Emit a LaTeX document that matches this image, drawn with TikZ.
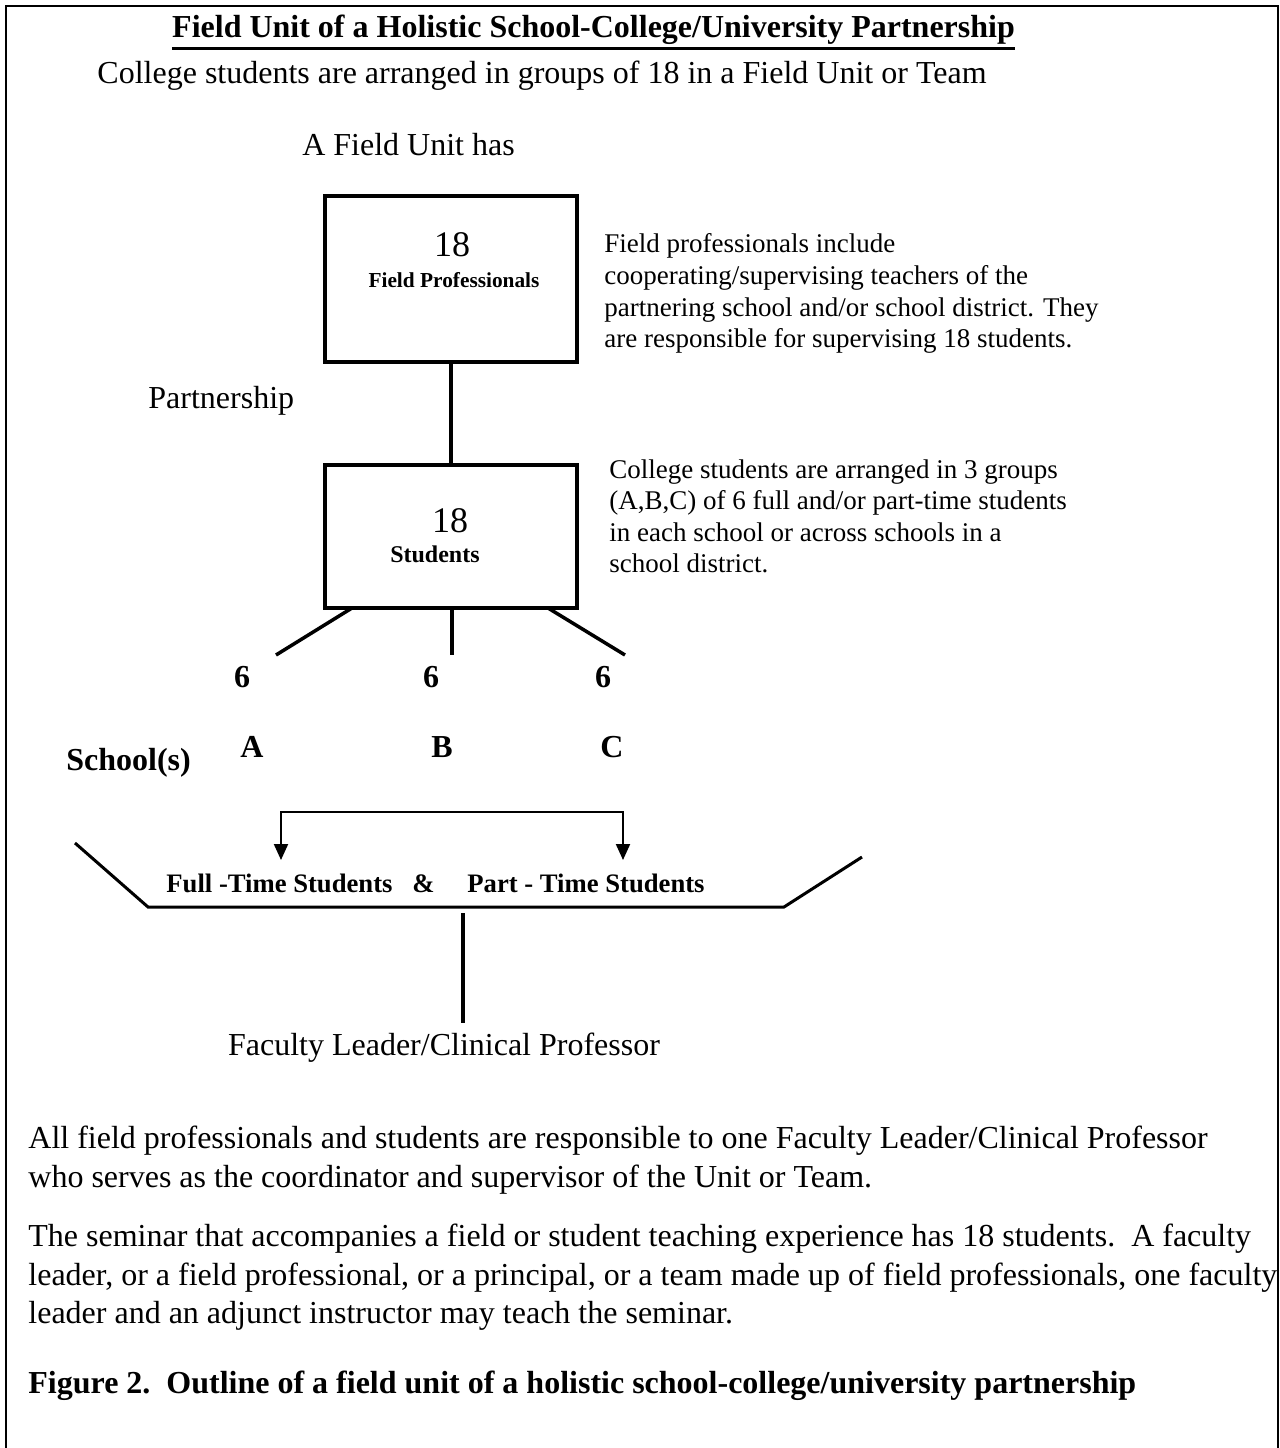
\documentclass[tikz,border=0pt]{standalone}
\usepackage{fontspec}
\setmainfont{Liberation Serif}
\usetikzlibrary{arrows.meta}
\begin{document}
\begin{tikzpicture}[x=0.5pt,y=-0.5pt,
  body/.style={inner sep=0pt, font=\fontsize{16}{19}\selectfont},
  bodyb/.style={inner sep=0pt, font=\fontsize{16}{19}\selectfont\bfseries},
  side/.style={inner sep=0pt, anchor=base west, font=\fontsize{13.5}{16}\selectfont},
  bigno/.style={inner sep=0pt, anchor=base, font=\fontsize{18}{21}\selectfont},
  unitbox/.style={draw, line width=2pt, minimum width=126pt, inner sep=0pt},
  conn/.style={line width=1.75pt},
  tray/.style={line width=1.5pt},
  bracket/.style={line width=1pt, {Triangle[width=7pt,length=8pt]}-{Triangle[width=7pt,length=8pt]}}
]
\useasboundingbox (0,0) rectangle (1280,1448);
\fill[white] (0,0) rectangle (1280,1448);
% outer frame
\coordinate (fbl) at (6,1460);
\coordinate (ftl) at (6,6);
\coordinate (ftr) at (1278,6);
\coordinate (fbr) at (1278,1460);
\draw[line width=1.25pt] (fbl) -- (ftl) -- (ftr) -- (fbr);

% title
\node[bodyb, anchor=base] (title) at (593.5,37) {Field Unit of a Holistic School-College/University Partnership};
\draw[line width=1.5pt] ([yshift=-5.5pt]title.base west) -- ([yshift=-5.5pt]title.base east);

\node[body, anchor=base] (college) at (542,83) {College students are arranged in groups of 18 in a Field Unit or Team};
\node[body, anchor=base] (afu) at (408.5,155) {A Field Unit has};

% box 1
\node[unitbox, minimum height=83pt] (fpbox) at (451,279) {};
\node[bigno] (fp18) at (452,256) {18};
\node[inner sep=0pt, anchor=base, font=\fontsize{10.67}{13}\selectfont\bfseries] (fplab) at (454,287) {Field Professionals};

\node[side] (s1a) at (604,252) {Field professionals include};
\node[side] (s1b) at (604,284) {cooperating/supervising teachers of the};
\node[side] (s1c) at (604,316) {partnering school and/or school district. They};
\node[side] (s1d) at (604,347) {are responsible for supervising 18 students.};

\node[body, anchor=base west] (partner) at (148,408) {Partnership};

% box 2
\node[unitbox, minimum height=71.5pt] (stbox) at (451,536.5) {};
\node[bigno] (st18) at (450,532) {18};
\node[inner sep=0pt, anchor=base, font=\fontsize{12}{14}\selectfont\bfseries] (stlab) at (435,562) {Students};

\node[side] (s2a) at (609,478) {College students are arranged in 3 groups};
\node[side] (s2b) at (609,509) {(A,B,C) of 6 full and/or part-time students};
\node[side] (s2c) at (609,541) {in each school or across schools in a};
\node[side] (s2d) at (609,572) {school district.};

\draw[conn] (fpbox.south) -- (stbox.north);

% branches
\coordinate (b1) at (352,608);
\coordinate (b2) at (452,608);
\coordinate (b3) at (548,608);
\coordinate (e1) at (276,655);
\coordinate (e2) at (452,655);
\coordinate (e3) at (625,655);
\draw[conn] (b1) -- (e1);
\draw[conn] (b2) -- (e2);
\draw[conn] (b3) -- (e3);

\node[bodyb, anchor=base] (n6a) at (242,687) {6};
\node[bodyb, anchor=base] (n6b) at (431,687) {6};
\node[bodyb, anchor=base] (n6c) at (603,687) {6};
\node[bodyb, anchor=base] (la) at (252,757) {A};
\node[bodyb, anchor=base] (lb) at (442,757) {B};
\node[bodyb, anchor=base] (lc) at (612,757) {C};
\node[bodyb, anchor=base west] (schools) at (66,770) {School(s)};

% full/part time
\node[inner sep=0pt, anchor=base west, font=\fontsize{13.33}{16}\selectfont\bfseries] (ft) at (166,892) {Full -Time Students};
\node[inner sep=0pt, anchor=base west, font=\fontsize{13.33}{16}\selectfont\bfseries] (amp) at (412,892) {\&};
\node[inner sep=0pt, anchor=base west, font=\fontsize{13.33}{16}\selectfont\bfseries] (pt) at (467,892) {Part - Time Students};

\coordinate (arL) at (281,860);
\coordinate (arR) at (623,860);
\coordinate (brL) at (281,812);
\coordinate (brR) at (623,812);
\draw[bracket] (arL) -- (brL) -- (brR) -- (arR);

% tray
\coordinate (t1) at (75,843);
\coordinate (t2) at (148,907);
\coordinate (t3) at (784,907);
\coordinate (t4) at (862,857);
\draw[tray] (t1) -- (t2) -- (t3) -- (t4);

\coordinate (vtop) at (463,913);
\coordinate (vbot) at (463,1023);
\draw[conn] (vtop) -- (vbot);

\node[body, anchor=base] (fac) at (444,1055) {Faculty Leader/Clinical Professor};

% paragraphs
\node[body, anchor=base west] (p1a) at (28,1148) {All field professionals and students are responsible to one Faculty Leader/Clinical Professor};
\node[body, anchor=base west] (p1b) at (28,1187) {who serves as the coordinator and supervisor of the Unit or Team.};
\node[body, anchor=base west] (p2a) at (28,1246) {The seminar that accompanies a field or student teaching experience has 18 students.\ \ A faculty};
\node[body, anchor=base west] (p2b) at (28,1285) {leader, or a field professional, or a principal, or a team made up of field professionals, one faculty};
\node[body, anchor=base west] (p2c) at (28,1323) {leader and an adjunct instructor may teach the seminar.};

\node[bodyb, anchor=base west] (cap) at (28,1393) {Figure 2.\ \ Outline of a field unit of a holistic school-college/university partnership};
\end{tikzpicture}
\end{document}
